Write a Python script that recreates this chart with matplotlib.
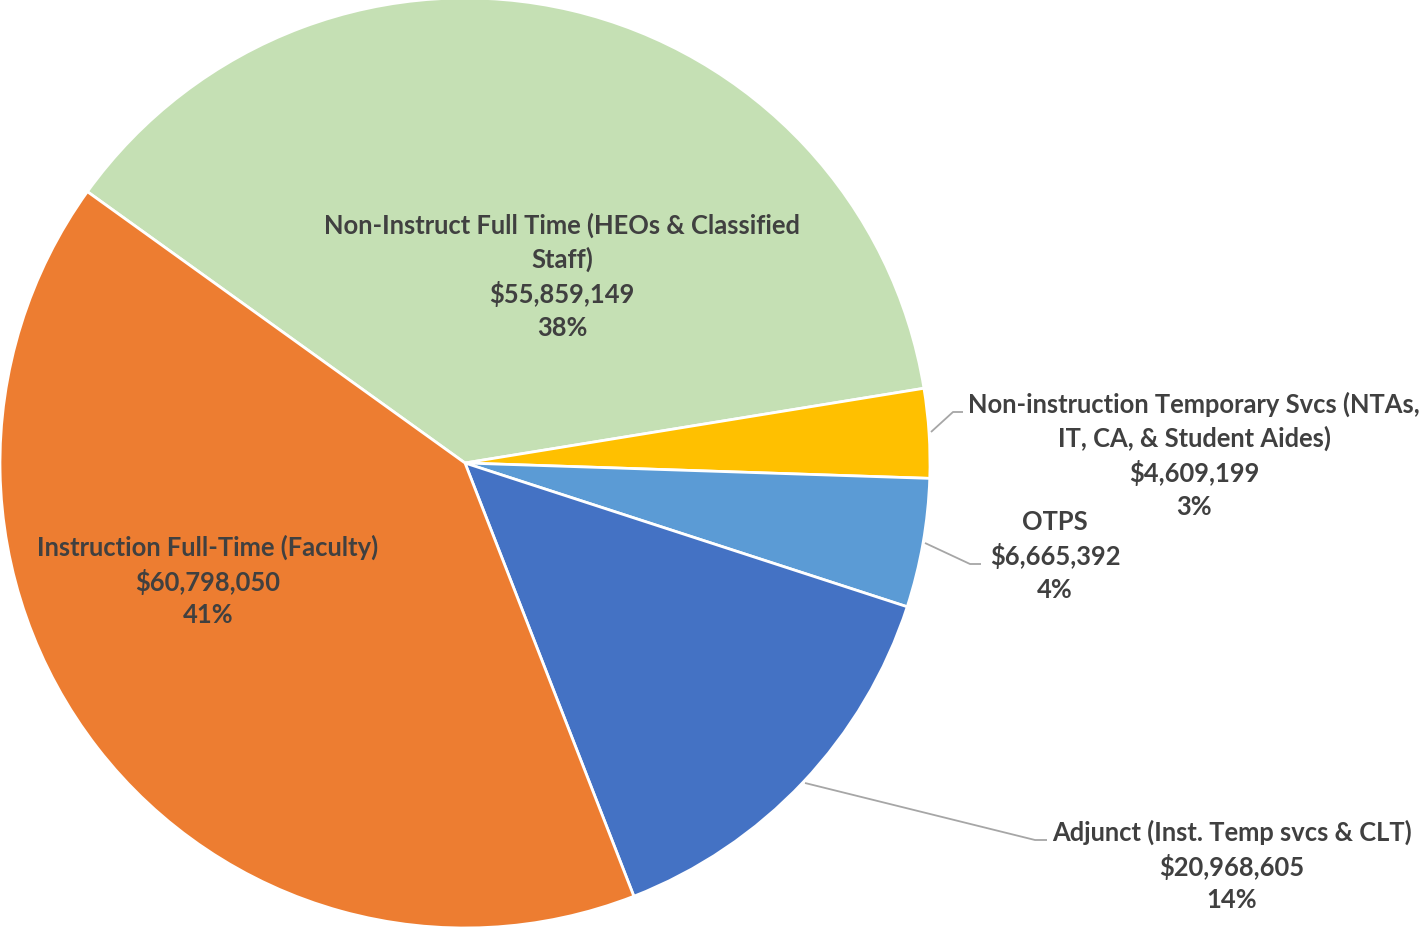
import numpy as np
import matplotlib
matplotlib.use("Agg")
import matplotlib.pyplot as plt

categories = [
    "Non-Instruct Full Time (HEOs & Classified\nStaff)",
    "Non-instruction Temporary Svcs (NTAs,\nIT, CA, & Student Aides)",
    "OTPS",
    "Adjunct (Inst. Temp svcs & CLT)",
    "Instruction Full-Time (Faculty)",
]
values = [55859149, 4609199, 6665392, 20968605, 60798050]
percent_labels = ["38%", "3%", "4%", "14%", "41%"]
colors = ["#C5E0B4", "#FFC000", "#5B9BD5", "#4472C4", "#ED7D31"]

W, H = 1422, 930
fig = plt.figure(figsize=(W / 100, H / 100), dpi=100)
ax = fig.add_axes([0, 0, 1, 1])
cx, cy, R = 465.0, 463.0, 465.0

wedges, _ = ax.pie(values, colors=colors, startangle=144.3, counterclock=False,
                   radius=1.0, center=(0, 0), frame=True,
                   wedgeprops=dict(edgecolor="white", linewidth=2))
ax.set_xlim(-cx / R, (W - cx) / R)
ax.set_ylim(-(H - cy) / R, cy / R)
ax.set_aspect("auto")
ax.axis("off")

def px(x, y):
    return ((x - cx) / R, (cy - y) / R)

# label layout (pixel positions of label centre) and leader lines
label_pos = [(562, 276), (1194, 455), (1055, 556), (1232, 866), (208, 581)]
leaders = [None,
           [(931, 432), (953, 412), (963, 412)],
           [(925, 543), (970, 564), (981, 564)],
           [(805, 783), (1035, 840), (1047, 840)],
           None]

fam = ["Lato", "DejaVu Sans"]
for i, w in enumerate(wedges):
    txt = f"{categories[i]}\n${values[i]:,}\n{percent_labels[i]}"
    x, y = px(*label_pos[i])
    ax.text(x, y, txt, ha="center", va="center", fontsize=18.4, fontweight="bold",
            color="#404040", family=fam, linespacing=1.42)
    if leaders[i]:
        pts = np.array([px(*p) for p in leaders[i]])
        ax.plot(pts[:, 0], pts[:, 1], color="#A6A6A6", lw=1.3, solid_capstyle="butt")

fig.savefig("out.png", dpi=100)
